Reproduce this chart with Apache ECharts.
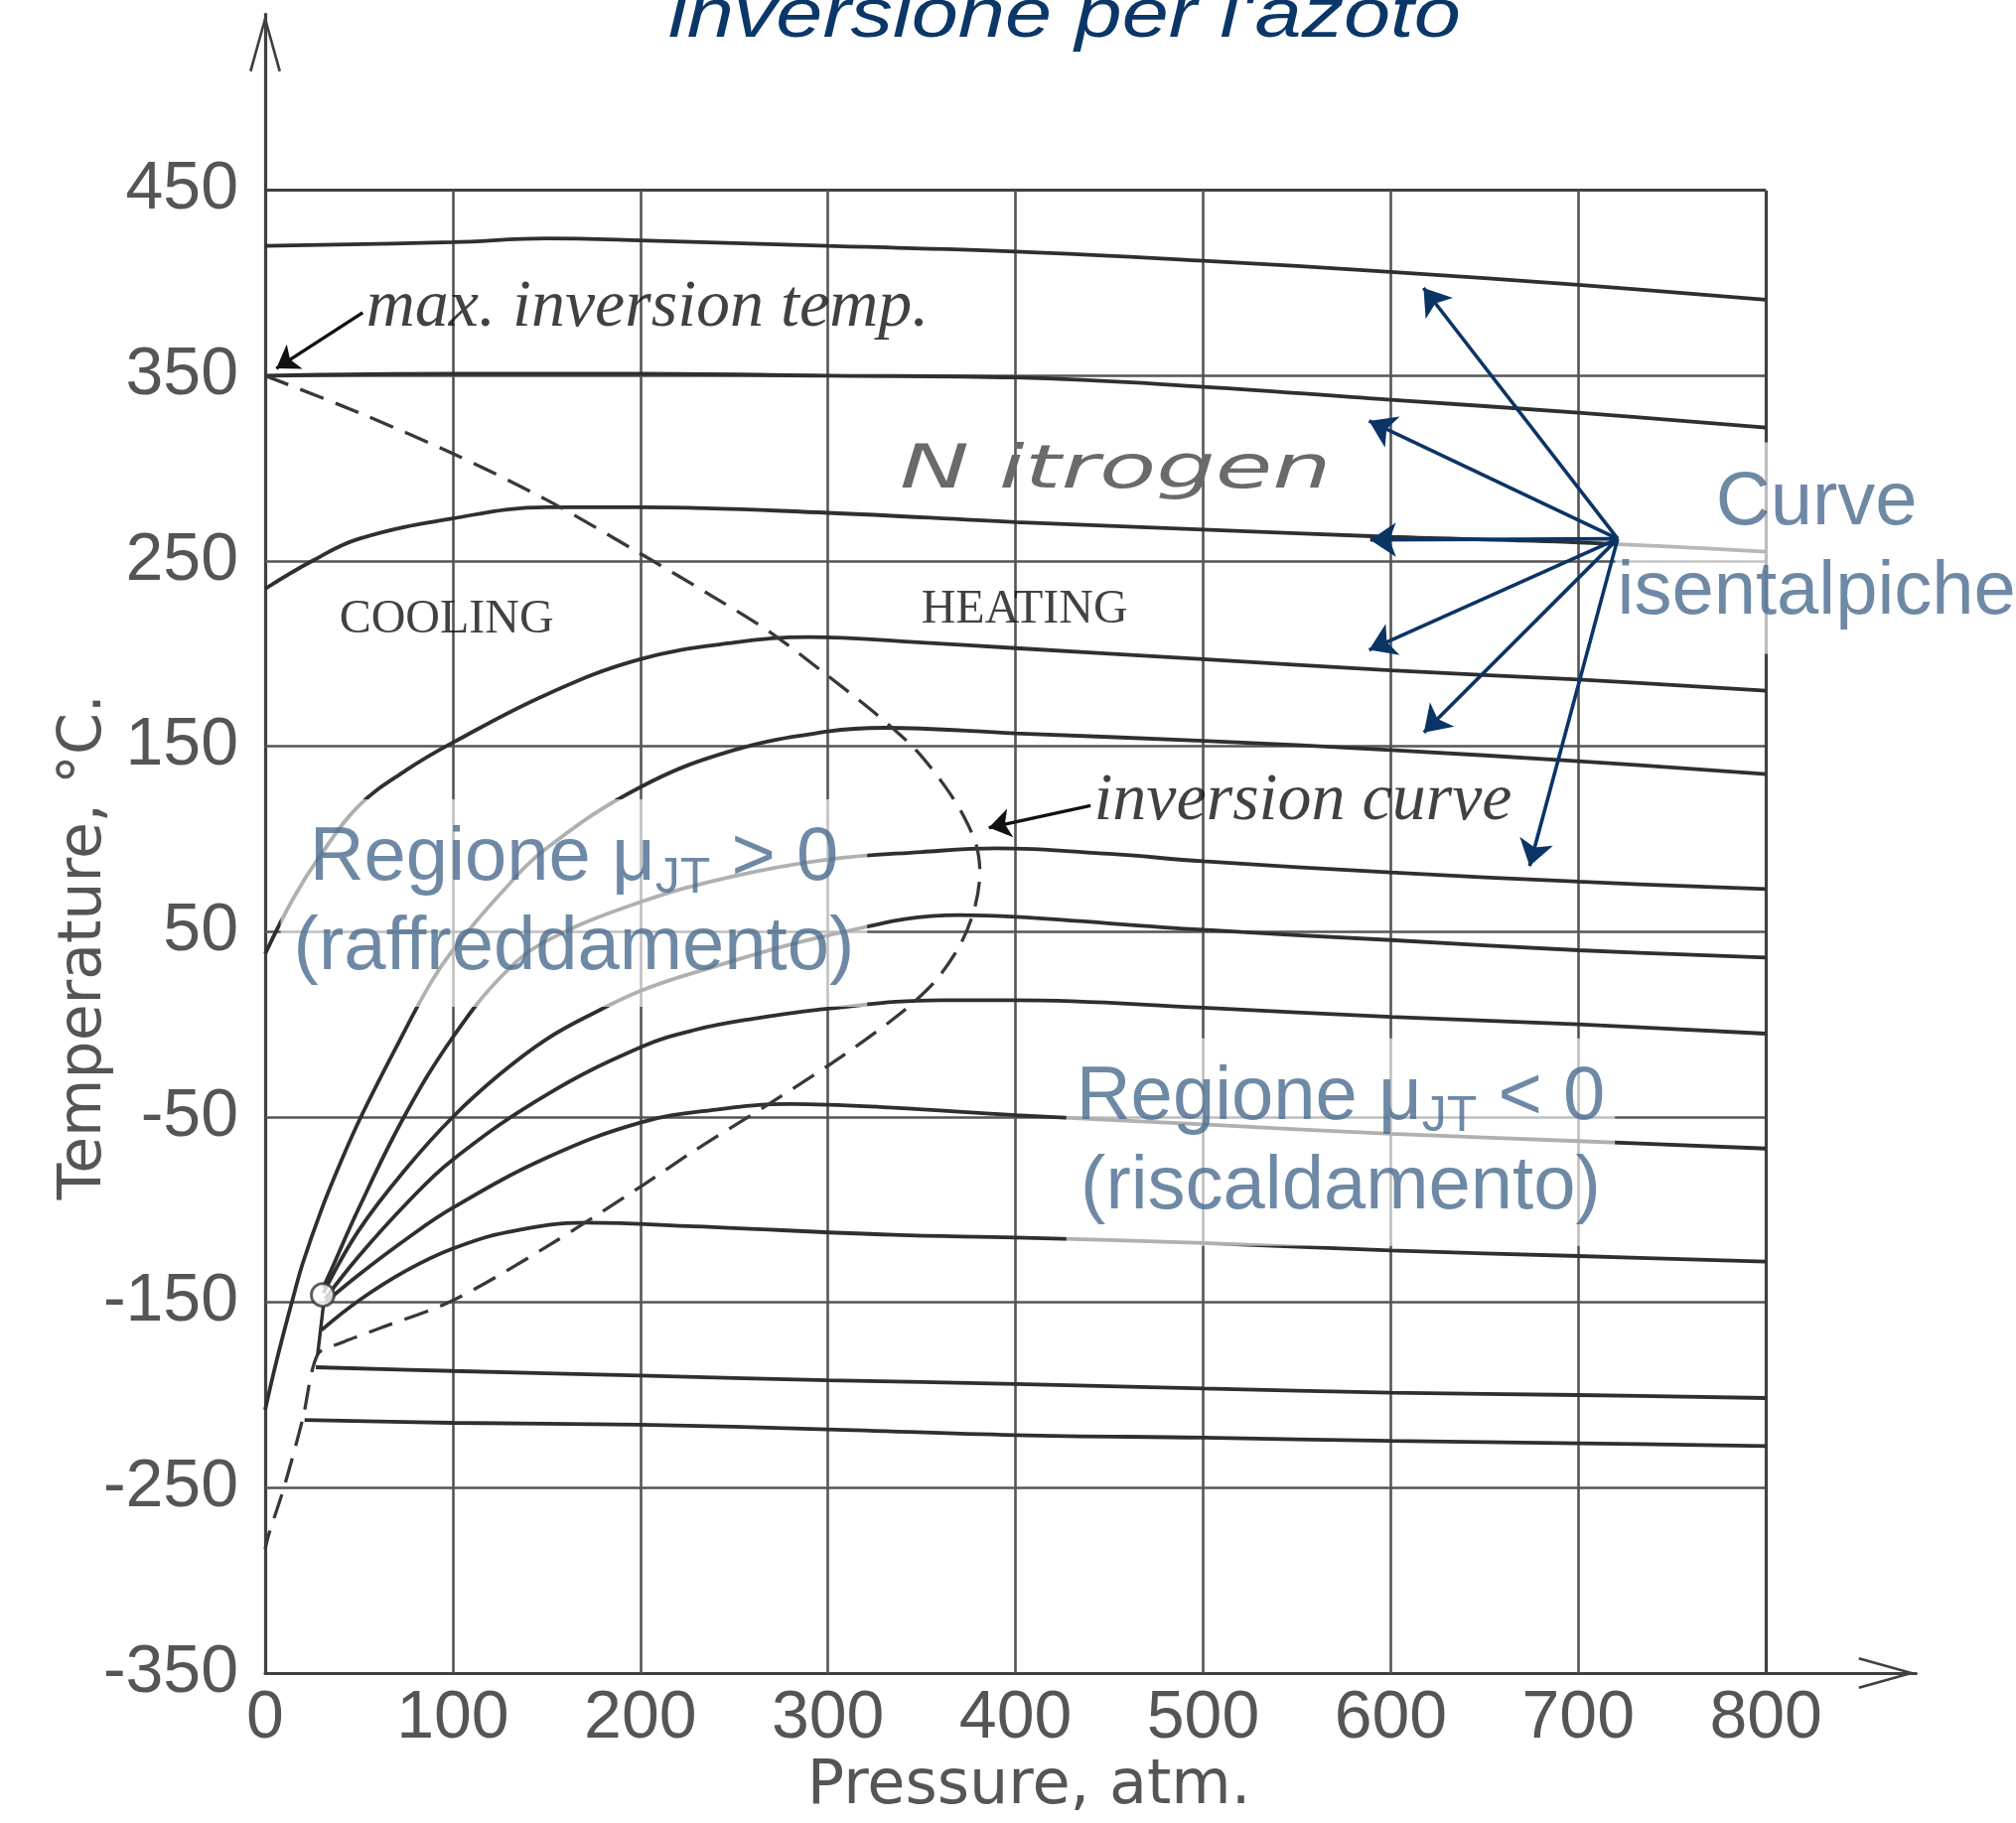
<!DOCTYPE html>
<html>
<head>
<meta charset="utf-8">
<script src="https://cdn.jsdelivr.net/npm/echarts@6/dist/echarts.min.js"></script>
<style>
  html, body { margin: 0; padding: 0; background: #ffffff; }
  #chart { width: 2030px; height: 1836px; }
</style>
</head>
<body>
<div id="chart"></div>
<script>
// ---- Axis ticks -----------------------------------------------------------
const pressureTicks = [0, 100, 200, 300, 400, 500, 600, 700, 800];
const temperatureTicks = [-350, -250, -150, -50, 50, 150, 250, 350, 450];

// ---- Isenthalps of nitrogen: [pressure (atm), temperature (°C)] ----------
const isenthalp1 = [[0, 420], [100, 422], [150, 424], [200, 423], [300, 420], [400, 417], [500, 412], [600, 406], [700, 399], [800, 391]];
const isenthalp2 = [[0, 350], [100, 351], [200, 351], [300, 350], [400, 349], [500, 344], [600, 337], [700, 330], [800, 322]];
const isenthalp3 = [[0, 235], [25, 250], [50, 262], [100, 273], [150, 279], [200, 279], [300, 276], [400, 271], [500, 267], [600, 263], [700, 260], [800, 255]];
const isenthalp4 = [[0, 38], [15, 68], [30, 92], [50, 118], [75, 137], [100, 152], [150, 178], [200, 197], [250, 206], [290, 209], [350, 206], [400, 203], [500, 197], [600, 191], [700, 186], [800, 180]];
const isenthalp5 = [[0, -208], [5, -186], [10, -166], [15, -147], [20, -129], [30, -100], [40, -75], [51, -50], [70, -12], [88, 22], [100, 40], [125, 70], [150, 95], [200, 128], [250, 148], [300, 158], [330, 160], [400, 157], [500, 153], [600, 148], [700, 142], [800, 135]];
const isenthalp6 = [[31, -142], [35, -133], [50, -99], [74, -50], [100, -7], [127, 27], [150, 45], [200, 66], [250, 80], [300, 89], [350, 93], [390, 95], [450, 92], [500, 88], [600, 82], [700, 77], [800, 73]];
const isenthalp7 = [[31, -145], [50, -111], [75, -78], [100, -50], [125, -27], [150, -8], [175, 6], [200, 18], [229, 28], [300, 48], [370, 59], [400, 58], [500, 51], [600, 45.5], [700, 40], [800, 36]];
const isenthalp8 = [[32, -148], [50, -125], [75, -97], [100, -73], [150, -38], [201, -12], [229, -3], [260, 3], [300, 8.5], [360, 13], [400, 13], [500, 9], [600, 4], [700, 0], [800, -5]];
const isenthalp9 = [[32, -150], [50, -135], [75, -116], [100, -99], [150, -72], [200, -53], [240, -46], [280, -43], [335, -45], [400, -49], [500, -54], [600, -59], [700, -63], [800, -67]];
const isenthalp10 = [[30, -165], [50, -149], [75, -133], [100, -121], [130, -112], [171, -107], [229, -109], [335, -113.6], [400, -115], [500, -118], [600, -122], [700, -125], [800, -128]];
const isenthalp11 = [[27, -185], [100, -187], [200, -189.5], [300, -192], [400, -194], [500, -196.5], [600, -198.7], [700, -200], [800, -201.6]];
const isenthalp12 = [[21, -213.5], [100, -215], [200, -216], [300, -218.5], [400, -221.6], [500, -223], [600, -224.7], [700, -226], [800, -227.5]];

// ---- Inversion curve (dashed) and saturation edge ------------------------
const inversionCurve = [[0, 350], [50, 330], [100, 308], [150, 283], [200, 254], [240, 230], [270, 211], [300, 188], [325, 168], [346, 149], [362, 129], [372, 113], [379, 97], [381, 82], [378, 62], [370, 42], [356, 22], [335, 3], [302, -21], [270, -42], [229, -68], [201, -87], [150, -120], [100, -149], [61, -164], [40, -172], [28, -178], [20, -213], [10, -250], [2, -275], [0, -283]];
const saturationEdge = [[31, -152], [28, -178]];
const criticalPoint = [[30.7, -146]];

// ---- Pointer arrows (from -> to), [atm, °C] -------------------------------
const isenthalpPointerOrigin = [721, 262];
const isenthalpPointerTips = [[613.6, 402.4], [582.7, 328.3], [582.7, 261.4], [582.7, 199.4], [613.2, 152.9], [672.4, 79.2]];
const maxInversionPointer = [[52, 384], [1.5, 351]];
const inversionCurvePointer = [[440, 118], [380.6, 105]];

// ---- Styling ---------------------------------------------------------------
const INK = '#2f2f2f';
const GRID_INK = '#555555';
const NAVY = '#0b3466';
const STEEL = '#4a6b8f';
const TICK_FONT = "'Liberation Sans Narrow', 'Liberation Sans', sans-serif";
const PX_PER_ATM = 1.889, PX_PER_DEG = 1.87;
// open chevron used as axis arrow head
const CHEVRON = 'path://M16,0 L32,57 L29.4,58 L16,9.2 L2.6,58 L0,57 Z';

// shorten a pointer so the arrow head tip lands on its target
function pullBack(from, to, px) {
  const dx = to[0] - from[0], dy = to[1] - from[1];
  const len = Math.hypot(dx * PX_PER_ATM, dy * PX_PER_DEG);
  const k = px / len;
  return [to[0] - dx * k, to[1] - dy * k];
}

const isenthalps = [isenthalp1, isenthalp2, isenthalp3, isenthalp4, isenthalp5, isenthalp6,
  isenthalp7, isenthalp8, isenthalp9, isenthalp10, isenthalp11, isenthalp12];

const pMax = pressureTicks[pressureTicks.length - 1];
const tMax = temperatureTicks[temperatureTicks.length - 1];
const tMin = temperatureTicks[0];

const gridRules = [];
temperatureTicks.slice(1).forEach(function (t) {
  gridRules.push({ coords: [[0, t], [pMax, t]], lineStyle: t === tMax ? { width: 3.2, color: '#404040' } : undefined });
});
pressureTicks.slice(1).forEach(function (p) {
  gridRules.push({ coords: [[p, tMin], [p, tMax]], lineStyle: p === pMax ? { width: 3.2, color: '#404040' } : undefined });
});

const series = [];

series.push({
  type: 'lines', coordinateSystem: 'cartesian2d', silent: true, z: 1,
  lineStyle: { color: GRID_INK, width: 2.6, opacity: 1 },
  data: gridRules
});

isenthalps.forEach(function (curve) {
  series.push({
    type: 'line', data: curve, showSymbol: false, symbol: 'none',
    smooth: 0.4, silent: true, z: 3,
    lineStyle: { color: INK, width: 3.8 }
  });
});

series.push({
  type: 'line', data: inversionCurve, showSymbol: false, symbol: 'none',
  smooth: 0.3, silent: true, z: 3,
  lineStyle: { color: '#383838', width: 3.3, type: [25, 13] }
});
series.push({
  type: 'line', data: saturationEdge, showSymbol: false, symbol: 'none', silent: true, z: 3,
  lineStyle: { color: INK, width: 3.4 }
});
series.push({
  type: 'scatter', data: criticalPoint, symbol: 'circle', symbolSize: 23, silent: true, z: 4,
  itemStyle: { color: '#ffffff', borderColor: '#333', borderWidth: 2.8 }
});

// black pointers of the original figure
series.push({
  type: 'lines', coordinateSystem: 'cartesian2d', silent: true, z: 6,
  symbol: ['none', 'arrow'], symbolSize: 22,
  lineStyle: { color: '#111', width: 3.4, opacity: 1 },
  data: [maxInversionPointer, inversionCurvePointer].map(function (a) {
    return { coords: [a[0], pullBack(a[0], a[1], 10)] };
  })
});

// text annotations anchored in data space
function note(point, text, style) {
  return {
    type: 'scatter', data: [point], symbolSize: 0, silent: true, clip: false, z: 8,
    label: Object.assign({ show: true, position: 'inside', formatter: text, align: 'center', verticalAlign: 'middle' }, style)
  };
}

const serifItalic = { fontFamily: "'Liberation Serif', serif", fontStyle: 'italic', fontSize: 68, color: '#111' };
const serifCaps = { fontFamily: "'Liberation Serif', serif", fontSize: 48, color: '#111' };
series.push(note([203.8, 386.6], 'max. inversion temp.', serifItalic));
series.push(note([553.2, 120.4], 'inversion curve', serifItalic));
series.push(note([96.7, 218], 'COOLING', serifCaps));
series.push(note([404.8, 223.5], 'HEATING', serifCaps));

const regionRich = {
  r: { fontFamily: "'Liberation Sans', sans-serif", fontSize: 76, lineHeight: 90, color: STEEL, align: 'center' },
  s: { fontFamily: "'Liberation Sans', sans-serif", fontSize: 50, lineHeight: 62, color: STEEL, verticalAlign: 'bottom', align: 'center' }
};
series.push(note([164.6, 65.5], '{r|Regione μ}{s|JT}{r| > 0}\n{r|(raffreddamento)}', {
  rich: regionRich, backgroundColor: 'rgba(255,255,255,0.78)', padding: [15, 13, 14, 13]
}));
series.push(note([573.3, -63.5], '{r|Regione μ}{s|JT}{r| < 0}\n{r|(riscaldamento)}', {
  rich: regionRich, backgroundColor: 'rgba(255,255,255,0.78)', padding: [15, 10, 14, 10]
}));
series.push(note([827, 257], 'Curve\nisentalpiche', {
  fontFamily: "'Liberation Sans', sans-serif", fontSize: 76, lineHeight: 90, color: STEEL,
  backgroundColor: 'rgba(255,255,255,0.82)', padding: [17, 2, 16, 2]
}));

// navy pointers to the isenthalps
series.push({
  type: 'lines', coordinateSystem: 'cartesian2d', silent: true, z: 10,
  symbol: ['none', 'arrow'], symbolSize: 26,
  lineStyle: { color: NAVY, width: 3.6, opacity: 1 },
  data: isenthalpPointerTips.map(function (tip) {
    return { coords: [isenthalpPointerOrigin, pullBack(isenthalpPointerOrigin, tip, 12)] };
  })
});

const axisLine = {
  show: true, onZero: false,
  lineStyle: { color: '#404040', width: 3.2 },
  symbol: ['none', CHEVRON], symbolSize: [32, 58], symbolOffset: [0, -29]
};

const option = {
  animation: false,
  backgroundColor: '#ffffff',
  grid: { left: 267, right: 100.7, top: 14.35, bottom: 148, containLabel: false },
  xAxis: {
    type: 'value', min: 0, max: 880,
    axisLine: axisLine,
    axisTick: { show: false },
    splitLine: { show: false },
    axisLabel: { customValues: pressureTicks, fontFamily: TICK_FONT, fontSize: 68, color: '#555', margin: 12 },
    name: 'Pressure, atm.', nameLocation: 'middle', nameGap: 84, nameMoveOverlap: false,
    nameTextStyle: { fontFamily: "'DejaVu Sans', sans-serif", fontSize: 62, color: '#555', padding: [0, 124, 0, 0] }
  },
  yAxis: {
    type: 'value', min: -350, max: 545,
    axisLine: axisLine,
    axisTick: { show: false },
    splitLine: { show: false },
    axisLabel: { customValues: temperatureTicks, fontFamily: TICK_FONT, fontSize: 68, color: '#555', margin: 27 },
    name: 'Temperature, °C.', nameLocation: 'middle', nameGap: 152, nameRotate: 90, nameMoveOverlap: false,
    nameTextStyle: { fontFamily: "'DejaVu Sans', sans-serif", fontSize: 60, color: '#555', padding: [0, 208, 0, 0] }
  },
  graphic: [
    {
      type: 'text', x: 673, y: 53, scaleX: 1.21, silent: true, z: 20,
      style: { text: "inversione per l'azoto", fontFamily: "'Liberation Sans', sans-serif", fontStyle: 'italic', fontSize: 70, fill: '#0a3768', align: 'left', verticalAlign: 'bottom' }
    },
    {
      type: 'text', x: 906, y: 475, scaleX: 1.56, silent: true, z: 5,
      style: { text: 'N itrogen', fontFamily: "'DejaVu Sans', sans-serif", fontStyle: 'italic', fontWeight: 'lighter', fontSize: 60, fill: '#6a6a6a', align: 'left', verticalAlign: 'middle' }
    }
  ],
  series: series
};

const chart = echarts.init(document.getElementById('chart'), null, { renderer: 'canvas' });
chart.setOption(option);
</script>
</body>
</html>
